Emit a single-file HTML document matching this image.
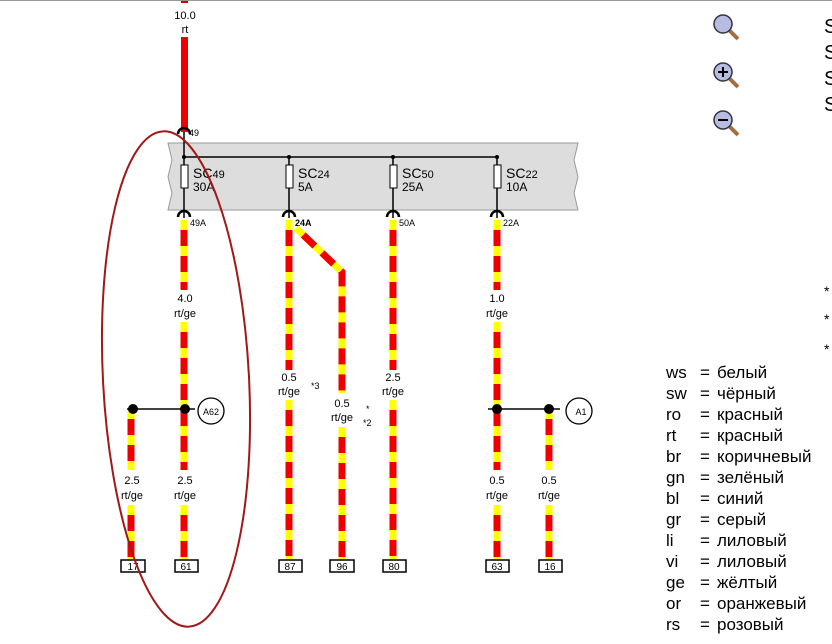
<!DOCTYPE html>
<html><head><meta charset="utf-8"><style>
html,body{margin:0;padding:0;background:#fff;width:832px;height:644px;overflow:hidden}
svg{display:block}
text{font-family:"Liberation Sans",sans-serif}
</style></head><body>
<svg width="832" height="644" viewBox="0 0 832 644" xmlns="http://www.w3.org/2000/svg">
<defs>
<g id="conn"><path d="M-6,6 A6,6 0 0 1 6,6" fill="none" stroke="#000" stroke-width="2.5"/></g>
</defs>
<rect x="181" y="0" width="7" height="3" fill="#c00"/>
<rect x="181" y="37" width="7" height="95" fill="#e00"/>
<text x="185" y="19" font-size="11" text-anchor="middle">10.0</text>
<text x="185" y="33" font-size="11" text-anchor="middle">rt</text>
<use href="#conn" x="184" y="128"/>
<text x="189" y="136" font-size="9">49</text>
<path d="M168,143 L578,143 L574,160 L578,177 L574,193 L578,210 L168,210 L172,193 L168,177 L172,160 Z" fill="#ddd" stroke="#999" stroke-width="1"/>
<line x1="184" y1="132" x2="184" y2="218" stroke="#000" stroke-width="1.5"/>
<line x1="184" y1="157" x2="497" y2="157" stroke="#000" stroke-width="1.5"/>
<g stroke="#000" stroke-width="1.5">
<line x1="289" y1="157" x2="289" y2="218"/><line x1="393" y1="157" x2="393" y2="218"/><line x1="497" y1="157" x2="497" y2="218"/>
</g>
<g fill="#000"><circle cx="289" cy="157" r="2"/><circle cx="393" cy="157" r="2"/><circle cx="497" cy="157" r="2"/><circle cx="184" cy="157" r="2"/></g>
<g fill="#fff" stroke="#000" stroke-width="1">
<rect x="181" y="165" width="7" height="23"/><rect x="286" y="165" width="7" height="23"/><rect x="390" y="165" width="7" height="23"/><rect x="494" y="165" width="7" height="23"/>
</g>
<g font-size="14">
<text x="193" y="178">SC<tspan font-size="11">49</tspan></text><text x="193" y="191" font-size="12">30A</text>
<text x="298" y="178">SC<tspan font-size="11">24</tspan></text><text x="298" y="191" font-size="12">5A</text>
<text x="402" y="178">SC<tspan font-size="11">50</tspan></text><text x="402" y="191" font-size="12">25A</text>
<text x="506" y="178">SC<tspan font-size="11">22</tspan></text><text x="506" y="191" font-size="12">10A</text>
</g>
<use href="#conn" x="184" y="211"/><use href="#conn" x="289" y="211"/><use href="#conn" x="393" y="211"/><use href="#conn" x="497" y="211"/>
<g font-size="9"><text x="190" y="226">49A</text><text x="295" y="226" font-weight="bold">24A</text><text x="399" y="226">50A</text><text x="503" y="226">22A</text></g>
<g stroke-width="7" fill="none">
<g stroke="#ff0">
<path d="M184,220V290M184,322V470M184,505V560M131,409V470M131,505V560M289,220V370M289,400V560M296,228L342,272V393M342,427V560M393,220V370M393,400V560M497,220V290M497,322V470M497,505V560M549,409V470M549,505V560"/>
</g>
<g stroke="#e00" stroke-dasharray="16 10" stroke-dashoffset="-10">
<path d="M184,220V290M184,322V470M184,505V560M131,409V470M131,505V560M289,220V370M289,400V560M296,228L342,272V393M342,427V560M393,220V370M393,400V560M497,220V290M497,322V470M497,505V560M549,409V470M549,505V560"/>
</g>
</g>
<g font-size="11" text-anchor="middle">
<text x="185" y="302">4.0</text><text x="185" y="317">rt/ge</text>
<text x="132" y="484">2.5</text><text x="132" y="499">rt/ge</text>
<text x="185" y="484">2.5</text><text x="185" y="499">rt/ge</text>
<text x="289" y="381">0.5</text><text x="289" y="395">rt/ge</text>
<text x="342" y="407">0.5</text><text x="342" y="421">rt/ge</text>
<text x="393" y="381">2.5</text><text x="393" y="395">rt/ge</text>
<text x="497" y="302">1.0</text><text x="497" y="317">rt/ge</text>
<text x="497" y="484">0.5</text><text x="497" y="499">rt/ge</text>
<text x="549" y="484">0.5</text><text x="549" y="499">rt/ge</text>
</g>
<g font-size="9"><text x="311" y="389">*3</text><text x="366" y="412">*</text><text x="363" y="426">*2</text></g>
<g stroke="#444" stroke-width="2"><line x1="127" y1="409" x2="195" y2="409"/><line x1="488" y1="409" x2="560" y2="409"/></g>
<g fill="#000"><circle cx="133" cy="409" r="5"/><circle cx="185" cy="409" r="5"/><circle cx="497" cy="409" r="5"/><circle cx="549" cy="409" r="5"/></g>
<g fill="#fff" stroke="#000" stroke-width="1.3"><circle cx="211" cy="411" r="13"/><circle cx="579" cy="411" r="13"/></g>
<g font-size="9" text-anchor="middle"><text x="211" y="415">A62</text><text x="581" y="415">A1</text></g>
<g fill="#fff" stroke="#000" stroke-width="1.5">
<rect x="121" y="560" width="24" height="12"/><rect x="175" y="560" width="23" height="12"/><rect x="279" y="560" width="23" height="12"/><rect x="330" y="560" width="24" height="12"/><rect x="383" y="560" width="23" height="12"/><rect x="486" y="560" width="23" height="12"/><rect x="539" y="560" width="23" height="12"/>
</g>
<g font-size="10" text-anchor="middle">
<text x="133" y="570">17</text><text x="186" y="570">61</text><text x="290" y="570">87</text><text x="342" y="570">96</text><text x="394" y="570">80</text><text x="497" y="570">63</text><text x="550" y="570">16</text>
</g>
<ellipse cx="176" cy="379" rx="73" ry="248" fill="none" stroke="#a01818" stroke-width="2" transform="rotate(-3 176 379)"/>
<g>
<g transform="translate(723,24)"><line x1="6" y1="6" x2="15" y2="15" stroke="#a07040" stroke-width="4"/><circle cx="0" cy="0" r="9" fill="#b8bce0" stroke="#334" stroke-width="1.5"/></g>
<g transform="translate(723,72)"><line x1="6" y1="6" x2="15" y2="15" stroke="#a07040" stroke-width="4"/><circle cx="0" cy="0" r="9" fill="#b8bce0" stroke="#334" stroke-width="1.5"/><path d="M-5,0H5M0,-5V5" stroke="#000" stroke-width="2"/></g>
<g transform="translate(723,120)"><line x1="6" y1="6" x2="15" y2="15" stroke="#a07040" stroke-width="4"/><circle cx="0" cy="0" r="9" fill="#b8bce0" stroke="#334" stroke-width="1.5"/><path d="M-5,0H5" stroke="#000" stroke-width="2"/></g>
</g>
<g font-size="20"><text x="824" y="33">S</text><text x="824" y="59">S</text><text x="824" y="85">S</text><text x="824" y="111">S</text></g>
<g font-size="14"><text x="824" y="296">*</text><text x="824" y="324">*</text><text x="824" y="354">*</text></g>
<line x1="0" y1="0.5" x2="832" y2="0.5" stroke="#999"/>
<g font-size="17">
<text x="666" y="378">ws</text><text x="666" y="399">sw</text><text x="666" y="420">ro</text><text x="666" y="441">rt</text><text x="666" y="462">br</text><text x="666" y="483">gn</text><text x="666" y="504">bl</text><text x="666" y="525">gr</text><text x="666" y="546">li</text><text x="666" y="567">vi</text><text x="666" y="588">ge</text><text x="666" y="609">or</text><text x="666" y="630">rs</text>
</g>
<g font-size="17">
<text x="700" y="378">=</text><text x="700" y="399">=</text><text x="700" y="420">=</text><text x="700" y="441">=</text><text x="700" y="462">=</text><text x="700" y="483">=</text><text x="700" y="504">=</text><text x="700" y="525">=</text><text x="700" y="546">=</text><text x="700" y="567">=</text><text x="700" y="588">=</text><text x="700" y="609">=</text><text x="700" y="630">=</text>
</g>
<g font-size="17">
<text x="717" y="378">белый</text><text x="717" y="399">чёрный</text><text x="717" y="420">красный</text><text x="717" y="441">красный</text><text x="717" y="462">коричневый</text><text x="717" y="483">зелёный</text><text x="717" y="504">синий</text><text x="717" y="525">серый</text><text x="717" y="546">лиловый</text><text x="717" y="567">лиловый</text><text x="717" y="588">жёлтый</text><text x="717" y="609">оранжевый</text><text x="717" y="630">розовый</text>
</g>
</svg>
</body></html>
